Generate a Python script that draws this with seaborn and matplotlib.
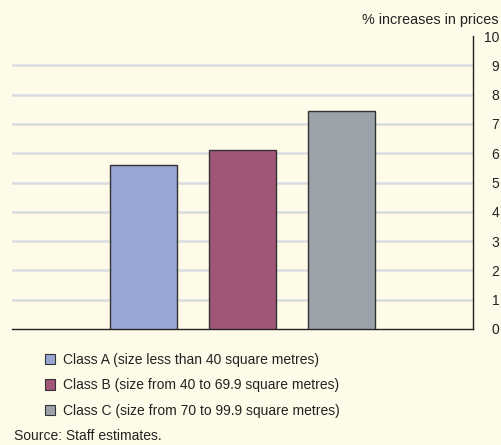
import matplotlib
matplotlib.use("Agg")
import matplotlib.pyplot as plt
import seaborn as sns
import pandas as pd
from matplotlib.patches import Patch

categories = ["Class A (size less than 40 square metres)",
              "Class B (size from 40 to 69.9 square metres)",
              "Class C (size from 70 to 99.9 square metres)"]
values = [5.6, 6.1, 7.45]
colors = ["#99A5D3", "#A15577", "#9CA2A9"]
yticks = list(range(0, 11))

bg = "#FEFBE9"
sns.set_theme(style="white")
plt.rcParams["font.family"] = ["Liberation Sans", "DejaVu Sans"]

fig = plt.figure(figsize=(5.02, 4.45), dpi=100, facecolor=bg)
ax = fig.add_axes([12/502, 1-329/445, (473-12)/502, (329-36)/445])
ax.set_facecolor(bg)

df = pd.DataFrame({"cls": categories, "val": values})
sns.barplot(data=df, x="cls", y="val", hue="cls", palette=colors,
            saturation=1, width=0.67, edgecolor="#333333", linewidth=1.0,
            legend=False, ax=ax, zorder=3)

ax.set_xlim(-1.33, 3.33)
ax.set_ylim(0, 10)
ax.set_yticks(yticks)
for t in yticks[1:-1]:
    ax.axhline(t, color="#DADDE1", linewidth=1.8, zorder=1)
ax.yaxis.tick_right()
ax.tick_params(axis="y", length=0, pad=19, labelsize=10, colors="#222222")
for lbl in ax.get_yticklabels():
    lbl.set_horizontalalignment("right")
ax.set_xticks([])
ax.set_xlabel("")
ax.set_ylabel("")
for s in ["top", "left"]:
    ax.spines[s].set_visible(False)
for s in ["right", "bottom"]:
    ax.spines[s].set_color("#222222")
    ax.spines[s].set_linewidth(1.0)

fig.text(499/502, 1-20/445, "% increases in prices", ha="right", va="center",
         fontsize=10.4, color="#222222")

handles = [Patch(facecolor=c, edgecolor="#333333", linewidth=0.8) for c in colors]
fig.legend(handles, categories, loc="upper left",
           bbox_to_anchor=(39/502, 1-347/445), frameon=False,
           fontsize=10, handlelength=0.75, handleheight=0.75,
           handletextpad=0.6, labelspacing=0.85, labelcolor="#222222",
           borderaxespad=0)

fig.text(14/502, 1-436/445, "Source: Staff estimates.", ha="left", va="center",
         fontsize=10, color="#222222")

fig.savefig("out.png", dpi=100, facecolor=bg)
